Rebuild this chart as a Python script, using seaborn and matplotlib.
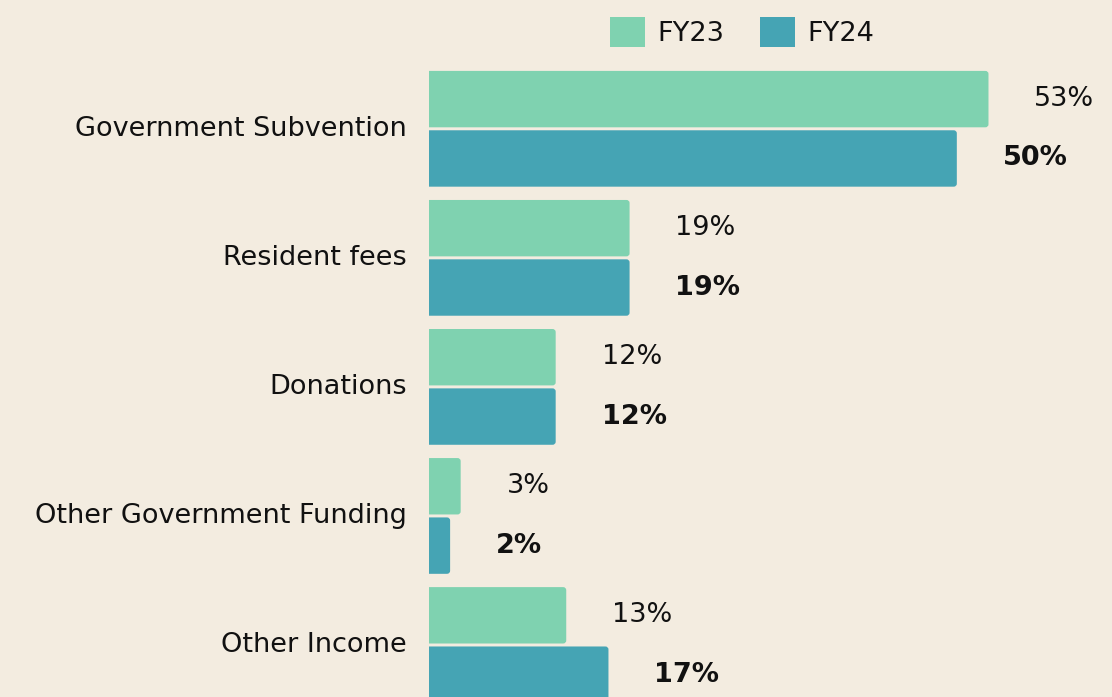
import matplotlib
matplotlib.use("Agg")
import matplotlib.pyplot as plt
from matplotlib.patches import FancyBboxPatch, Patch
from matplotlib.transforms import ScaledTranslation
import pandas as pd
import seaborn as sns

# funding sources, share of total income (%)
categories = ["Government Subvention", "Resident fees", "Donations",
              "Other Government Funding", "Other Income"]
fy23 = [53, 19, 12, 3, 13]
fy24 = [50, 19, 12, 2, 17]
years = ["FY23", "FY24"]

bg = "#F3ECE0"
ink = "#111111"
colors = {"FY23": "#7FD2B0", "FY24": "#45A4B4"}

df = pd.DataFrame({
    "source": categories * 2,
    "share": fy23 + fy24,
    "year": [years[0]] * len(categories) + [years[1]] * len(categories),
})

sns.set_theme(style="white")
plt.rcParams["font.family"] = ["DejaVu Sans"]
fs = 19.5

fig = plt.figure(figsize=(11.12, 6.97), dpi=100, facecolor=bg)
ax = fig.add_axes([429 / 1112, 0, 1 - 429 / 1112, 1])
ax.set_facecolor(bg)

sns.barplot(data=df, y="source", x="share", hue="year", orient="h",
            palette=colors, saturation=1, width=0.92, gap=0.05,
            legend=False, ax=ax)

ax.set_xlim(0, 64.7)
ax.set_ylim(4.403, -0.998)

# swap the plain rectangles for ones with slightly rounded corners
r = 0.3
for p in list(ax.patches):
    x, y = p.get_xy()
    w, h = p.get_width(), p.get_height()
    fb = FancyBboxPatch((x - r, y), w + r, h,
                        boxstyle=f"round,pad=0,rounding_size={r}",
                        mutation_aspect=0.078,
                        facecolor=p.get_facecolor(), edgecolor="none")
    p.remove()
    ax.add_patch(fb)

# value labels
for i, yr in enumerate(years):
    vals = fy23 if yr == "FY23" else fy24
    off = -0.23 if i == 0 else 0.23
    for j, v in enumerate(vals):
        ax.annotate(f"{v}%", (v, j + off), xytext=(33, 0),
                    textcoords="offset points", ha="left", va="center",
                    fontsize=fs, color=ink,
                    fontweight="normal" if i == 0 else "bold")

for s in ax.spines.values():
    s.set_visible(False)
ax.set_xticks([])
ax.set_xlabel("")
ax.set_ylabel("")
ax.tick_params(axis="y", length=0, pad=16, labelsize=fs, labelcolor=ink)
# nudge category names up a touch
shift = ScaledTranslation(0, 3 / 100, fig.dpi_scale_trans)
for lab in ax.get_yticklabels():
    lab.set_transform(lab.get_transform() + shift)

handles = [Patch(facecolor=colors[y], edgecolor="none", label=y) for y in years]
leg = fig.legend(handles=handles, loc="center",
                 bbox_to_anchor=(742 / 1112, 1 - 32 / 697),
                 ncol=2, frameon=False, fontsize=fs, handlelength=1.3,
                 handleheight=1.3, handletextpad=0.45, columnspacing=1.3)
for t in leg.get_texts():
    t.set_color(ink)

fig.savefig("out.png", dpi=100, facecolor=bg)
